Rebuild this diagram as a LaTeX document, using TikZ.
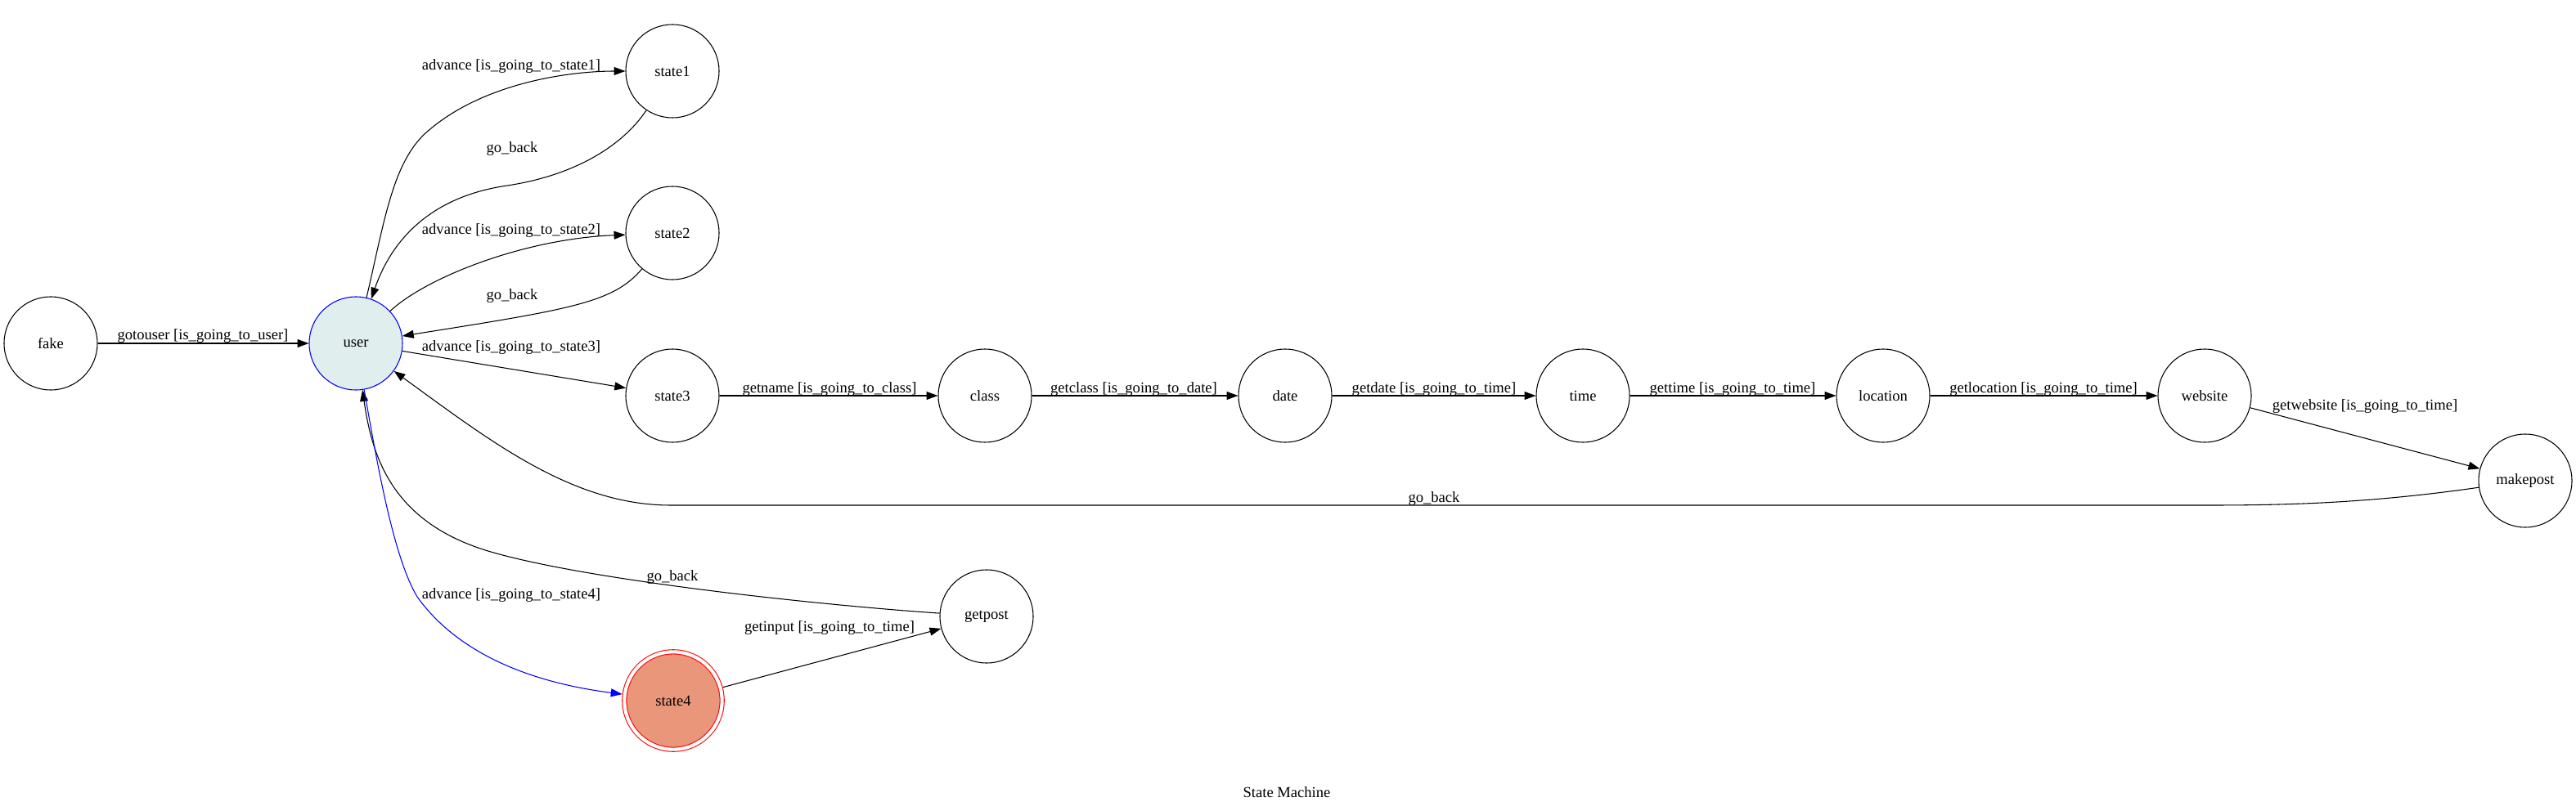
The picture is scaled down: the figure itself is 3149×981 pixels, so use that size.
\documentclass[tikz,border=0pt]{standalone}
\usepackage{fontspec}
\setmainfont{Liberation Serif}
\usetikzlibrary{arrows.meta}
\definecolor{userfill}{RGB}{224,238,238}
\definecolor{finalfill}{RGB}{233,150,122}
\tikzset{
  state/.style={circle, draw, minimum size=86pt, inner sep=0pt, font=\fontsize{14}{16}\selectfont},
  lbl/.style={inner sep=0pt, font=\fontsize{14}{16}\selectfont},
}
\begin{document}
\begin{tikzpicture}[x=0.7541pt, y=-0.7541pt, line width=0.8pt, >={Triangle[length=10.5pt,width=7.5pt]}]
        \useasboundingbox (0,0) rectangle (3149,981);

        % States
        \node[state] (fake) at (62,420) {fake};
        \node[state, draw=blue, fill=userfill] (user) at (435,420) {user};
        \node[state] (state1) at (822,87) {state1};
        \node[state] (state2) at (822,285) {state2};
        \node[state] (state3) at (822,484) {state3};
        \node[state] (class) at (1204,484) {class};
        \node[state] (date) at (1571,484) {date};
        \node[state] (time) at (1935,484) {time};
        \node[state] (location) at (2302,484) {location};
        \node[state] (website) at (2695,484) {website};
        \node[state] (makepost) at (3087,588) {makepost};
        \node[state] (getpost) at (1206,754) {getpost};
        \node[state, draw=red, fill=finalfill, minimum size=90pt, double=white, double distance=3.1pt, outer sep=2.4pt] (state4) at (823,857) {state4}; % final

        % Transitions
        \draw[->] (fake) -- (user);
        \draw[->] (user) .. controls (470,270) and (480,200) .. (520,163) .. controls (590,100) and (700,87) .. (state1);
        \draw[->] (state1) .. controls (760,180) and (700,215) .. (620,227) .. controls (530,240) and (480,290) .. (user);
        \draw[->] (user) .. controls (520,340) and (640,292) .. (state2);
        \draw[->] (state2) .. controls (750,370) and (700,378) .. (user);
        \draw[->] (user) -- (state3);
        \draw[->] (state3) -- (class);
        \draw[->] (class) -- (date);
        \draw[->] (date) -- (time);
        \draw[->] (time) -- (location);
        \draw[->] (location) -- (website);
        \draw[->] (website) -- (makepost);
        \draw[->] (makepost) .. controls (2900,615) and (2800,618) .. (2700,618) -- (820,618) .. controls (700,618) and (600,540) .. (user);
        \draw[->] (getpost) .. controls (1000,740) and (720,710) .. (600,675) .. controls (480,640) and (455,560) .. (user);
        \draw[->, blue] (user) .. controls (460,560) and (480,680) .. (510,730) .. controls (560,800) and (650,835) .. (state4);
        \draw[->] (state4) -- (getpost);

        % Labels
        \node[lbl] (l-fake) at (248,411) {gotouser [is\_going\_to\_user]};
        \node[lbl] (l-adv1) at (625,81) {advance [is\_going\_to\_state1]};
        \node[lbl] (l-back1) at (626,182) {go\_back};
        \node[lbl] (l-adv2) at (625,282) {advance [is\_going\_to\_state2]};
        \node[lbl] (l-back2) at (626,362) {go\_back};
        \node[lbl] (l-adv3) at (625,425) {advance [is\_going\_to\_state3]};
        \node[lbl] (l-name) at (1014,476) {getname [is\_going\_to\_class]};
        \node[lbl] (l-class) at (1386,476) {getclass [is\_going\_to\_date]};
        \node[lbl] (l-date) at (1753,476) {getdate [is\_going\_to\_time]};
        \node[lbl] (l-time) at (2118,476) {gettime [is\_going\_to\_time]};
        \node[lbl] (l-loc) at (2498,476) {getlocation [is\_going\_to\_time]};
        \node[lbl] (l-web) at (2891,497) {getwebsite [is\_going\_to\_time]};
        \node[lbl] (l-back3) at (1753,610) {go\_back};
        \node[lbl] (l-back4) at (822,706) {go\_back};
        \node[lbl] (l-adv4) at (625,728) {advance [is\_going\_to\_state4]};
        \node[lbl] (l-input) at (1014,768) {getinput [is\_going\_to\_time]};

        % Title
        \node[lbl] (title) at (1573,969) {State Machine};
    \end{tikzpicture}
\end{document}
